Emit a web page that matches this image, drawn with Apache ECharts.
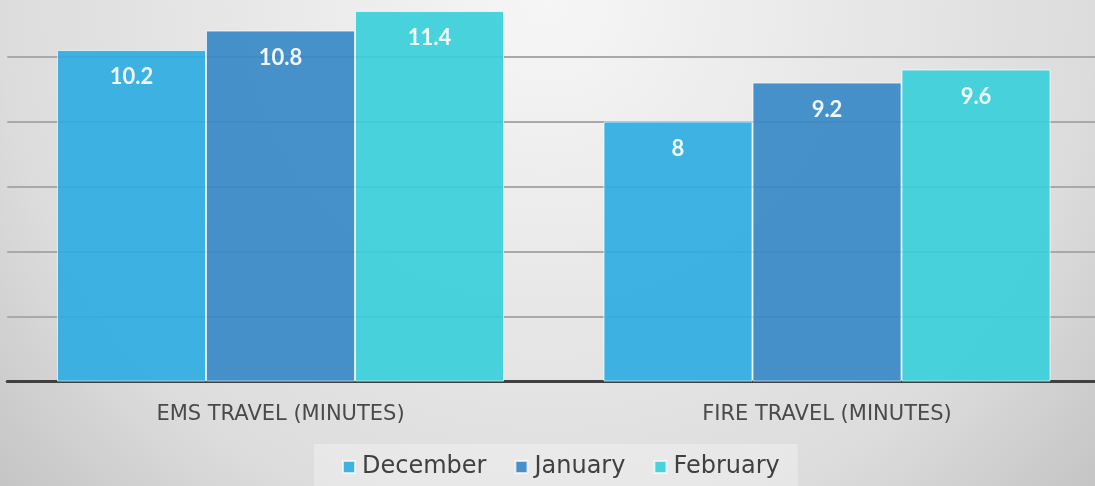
<!DOCTYPE html>
<html>
<head>
<meta charset="utf-8">
<script src="https://cdn.jsdelivr.net/npm/echarts@6/dist/echarts.min.js"></script>
<style>
html,body{margin:0;padding:0;overflow:hidden;width:1095px;height:486px;}
#c{width:1101px;height:486px;}
</style>
</head>
<body>
<div id="c"></div>
<script>
const categories = ['EMS TRAVEL (MINUTES)', 'FIRE TRAVEL (MINUTES)'];
const seriesNames = ['December', 'January', 'February'];
const december = [10.2, 8];
const january = [10.8, 9.2];
const february = [11.4, 9.6];
const colors = ['#2FADE2', '#3889C7', '#39CFD9'];

const chart = echarts.init(document.getElementById('c'));
const values = [december, january, february];
const labelFont = 'Lato, "Open Sans", sans-serif';
const textFont = '"DejaVu Sans", sans-serif';

chart.setOption({
  animation: false,
  backgroundColor: {
    type: 'radial', x: 547, y: 0, r: 760, global: true,
    colorStops: [
      {offset: 0, color: '#f6f6f6'},
      {offset: 0.72, color: '#dcdcdc'},
      {offset: 0.97, color: '#c4c4c4'},
      {offset: 1, color: '#c3c3c3'}
    ]
  },
  grid: {left: 7.25, right: 0.75, top: 0, bottom: 104.5, containLabel: false},
  xAxis: {
    type: 'category', data: categories,
    axisLine: {show: true, lineStyle: {color: '#404040', width: 3}},
    axisTick: {show: false},
    axisLabel: {color: '#4a4a4a', fontSize: 21, fontFamily: textFont, margin: 23}
  },
  yAxis: {
    type: 'value', min: 0, max: 11.74, interval: 2,
    axisLine: {show: false}, axisTick: {show: false}, axisLabel: {show: false},
    splitLine: {show: true, showMinLine: false, showMaxLine: false, lineStyle: {color: '#a9a9a9', width: 2}}
  },
  legend: {
    data: seriesNames, left: 314, top: 444,
    backgroundColor: 'rgba(255,255,255,0.3)',
    padding: [11, 18, 12, 28],
    itemWidth: 12, itemHeight: 12, itemGap: 28,
    icon: 'rect',
    textStyle: {color: '#404040', fontSize: 24, fontFamily: textFont, padding: [0, 0, 0, 2]}
  },
  series: seriesNames.map((name, i) => ({
    name: name, type: 'bar', data: values[i],
    barGap: '0%', barWidth: 149,
    itemStyle: {color: colors[i], opacity: 0.92, borderColor: 'rgba(255,255,255,0.75)', borderWidth: 1},
    label: {
      show: true, position: 'insideTop', distance: 16,
      color: '#ffffff', fontSize: 22, fontWeight: 'bold', fontFamily: labelFont
    }
  }))
});
</script>
</body>
</html>
